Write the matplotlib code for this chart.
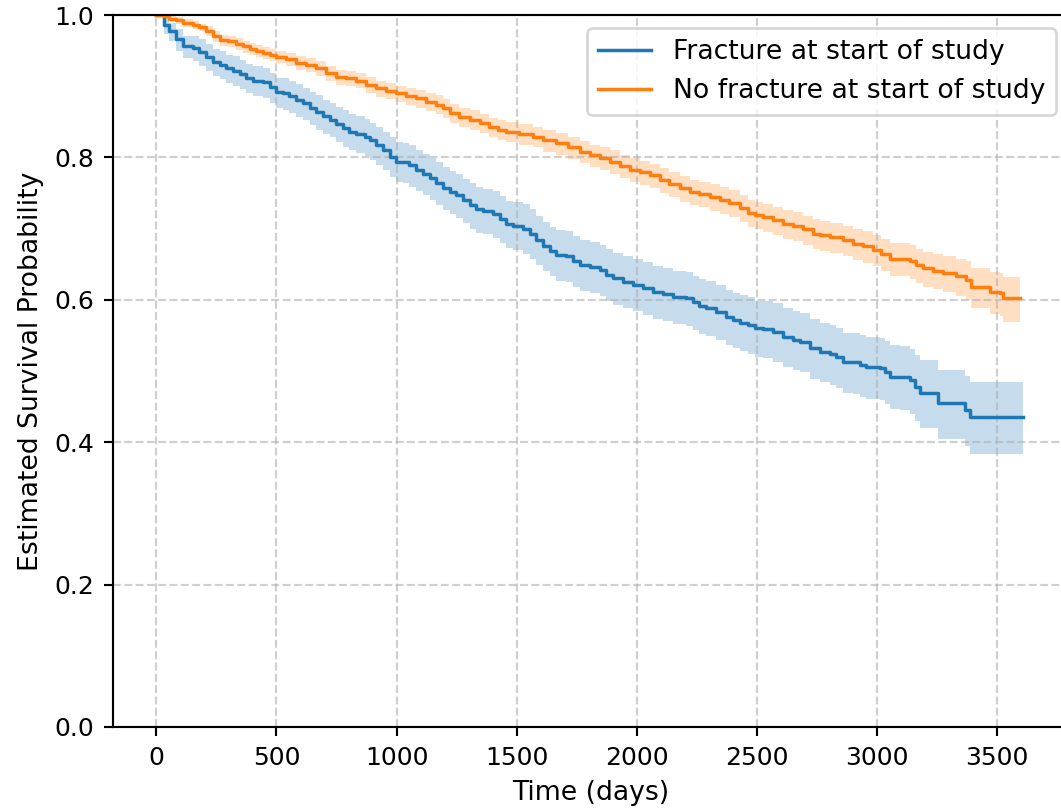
import matplotlib
matplotlib.use('Agg')
import matplotlib.pyplot as plt

# Fracture at start of study: time (days), survival, CI upper, CI lower
t_frac = [0, 33, 54, 82, 110, 151, 179, 207, 235, 263,
          290, 318, 346, 374, 401, 443, 471, 499, 527, 554,
          582, 610, 638, 665, 693, 721, 749, 776, 804, 832,
          867, 888, 915, 943, 971, 999, 1026, 1054, 1082, 1110,
          1138, 1165, 1193, 1221, 1249, 1276, 1304, 1332, 1360, 1401,
          1429, 1457, 1485, 1526, 1554, 1582, 1610, 1638, 1665, 1707,
          1735, 1763, 1804, 1846, 1874, 1901, 1943, 1985, 2026, 2068,
          2110, 2151, 2207, 2235, 2262, 2290, 2332, 2374, 2401, 2429,
          2464, 2492, 2526, 2568, 2609, 2651, 2679, 2721, 2762, 2804,
          2832, 2860, 2901, 2929, 2957, 3013, 3033, 3054, 3096, 3138,
          3158, 3179, 3256, 3367, 3388, 3610]
s_frac = [1.000, 0.986, 0.977, 0.966, 0.956, 0.954, 0.948, 0.941, 0.934, 0.930,
          0.925, 0.922, 0.917, 0.911, 0.908, 0.906, 0.899, 0.892, 0.890, 0.886,
          0.881, 0.876, 0.870, 0.864, 0.858, 0.853, 0.847, 0.841, 0.836, 0.833,
          0.829, 0.824, 0.817, 0.810, 0.801, 0.794, 0.793, 0.789, 0.783, 0.777,
          0.771, 0.764, 0.757, 0.752, 0.747, 0.740, 0.733, 0.727, 0.725, 0.721,
          0.714, 0.707, 0.704, 0.700, 0.693, 0.684, 0.675, 0.668, 0.663, 0.661,
          0.654, 0.649, 0.646, 0.642, 0.635, 0.630, 0.625, 0.621, 0.616, 0.611,
          0.608, 0.604, 0.602, 0.597, 0.591, 0.588, 0.583, 0.576, 0.572, 0.568,
          0.565, 0.560, 0.559, 0.555, 0.548, 0.544, 0.541, 0.532, 0.527, 0.524,
          0.520, 0.513, 0.512, 0.508, 0.506, 0.504, 0.499, 0.492, 0.491, 0.487,
          0.478, 0.469, 0.455, 0.445, 0.436, 0.436]
up_frac = [1.000, 0.996, 0.989, 0.980, 0.971, 0.971, 0.966, 0.959, 0.952, 0.949,
           0.944, 0.942, 0.937, 0.931, 0.928, 0.926, 0.919, 0.912, 0.911, 0.908,
           0.903, 0.898, 0.892, 0.887, 0.881, 0.877, 0.871, 0.866, 0.861, 0.858,
           0.854, 0.849, 0.843, 0.836, 0.828, 0.821, 0.820, 0.817, 0.811, 0.805,
           0.799, 0.793, 0.786, 0.781, 0.777, 0.770, 0.764, 0.758, 0.756, 0.753,
           0.746, 0.739, 0.737, 0.734, 0.727, 0.718, 0.709, 0.702, 0.698, 0.696,
           0.689, 0.684, 0.681, 0.677, 0.671, 0.666, 0.661, 0.657, 0.653, 0.648,
           0.645, 0.641, 0.639, 0.634, 0.629, 0.626, 0.621, 0.614, 0.610, 0.607,
           0.604, 0.599, 0.599, 0.595, 0.588, 0.584, 0.581, 0.573, 0.568, 0.565,
           0.561, 0.554, 0.554, 0.550, 0.548, 0.547, 0.542, 0.536, 0.535, 0.531,
           0.523, 0.515, 0.502, 0.493, 0.485, 0.485]
lo_frac = [1.000, 0.974, 0.963, 0.950, 0.939, 0.936, 0.929, 0.922, 0.915, 0.910,
           0.905, 0.901, 0.896, 0.890, 0.886, 0.884, 0.877, 0.870, 0.867, 0.863,
           0.857, 0.852, 0.846, 0.839, 0.833, 0.828, 0.821, 0.815, 0.810, 0.806,
           0.802, 0.797, 0.789, 0.782, 0.773, 0.765, 0.764, 0.759, 0.753, 0.747,
           0.740, 0.733, 0.726, 0.720, 0.715, 0.708, 0.700, 0.694, 0.692, 0.687,
           0.680, 0.673, 0.670, 0.665, 0.658, 0.649, 0.640, 0.633, 0.627, 0.625,
           0.618, 0.613, 0.610, 0.606, 0.598, 0.593, 0.588, 0.584, 0.578, 0.573,
           0.570, 0.566, 0.563, 0.558, 0.552, 0.549, 0.543, 0.536, 0.532, 0.528,
           0.524, 0.519, 0.518, 0.513, 0.506, 0.502, 0.499, 0.489, 0.484, 0.481,
           0.476, 0.469, 0.468, 0.463, 0.461, 0.459, 0.453, 0.446, 0.445, 0.440,
           0.430, 0.420, 0.405, 0.394, 0.384, 0.384]

# No fracture at start of study
t_nofrac = [0, 33, 54, 82, 110, 151, 179, 207, 235, 263,
            297, 332, 360, 388, 415, 443, 471, 499, 540, 582,
            624, 665, 707, 749, 790, 832, 874, 915, 957, 999,
            1040, 1082, 1124, 1165, 1193, 1221, 1262, 1304, 1346, 1387,
            1422, 1457, 1512, 1568, 1610, 1665, 1714, 1763, 1804, 1846,
            1888, 1929, 1971, 2013, 2054, 2096, 2137, 2179, 2221, 2262,
            2304, 2346, 2387, 2429, 2464, 2492, 2526, 2568, 2609, 2651,
            2693, 2735, 2762, 2804, 2860, 2901, 2943, 2985, 3019, 3054,
            3138, 3165, 3193, 3235, 3276, 3332, 3374, 3395, 3471, 3513,
            3526, 3596]
s_nofrac = [1.000, 0.998, 0.995, 0.993, 0.989, 0.986, 0.983, 0.978, 0.970, 0.965,
            0.963, 0.960, 0.956, 0.953, 0.950, 0.947, 0.944, 0.941, 0.938, 0.933,
            0.930, 0.925, 0.919, 0.913, 0.911, 0.908, 0.902, 0.897, 0.894, 0.890,
            0.886, 0.883, 0.878, 0.874, 0.869, 0.862, 0.857, 0.853, 0.848, 0.843,
            0.839, 0.836, 0.833, 0.829, 0.824, 0.820, 0.814, 0.808, 0.803, 0.799,
            0.794, 0.788, 0.783, 0.779, 0.775, 0.768, 0.763, 0.757, 0.752, 0.749,
            0.744, 0.740, 0.736, 0.729, 0.722, 0.719, 0.716, 0.712, 0.707, 0.704,
            0.699, 0.693, 0.691, 0.688, 0.684, 0.679, 0.675, 0.670, 0.664, 0.658,
            0.654, 0.649, 0.644, 0.641, 0.637, 0.633, 0.628, 0.618, 0.611, 0.609,
            0.602, 0.602]
up_nofrac = [1.000, 1.000, 0.998, 0.997, 0.994, 0.991, 0.988, 0.984, 0.977, 0.972,
             0.971, 0.968, 0.964, 0.961, 0.958, 0.955, 0.952, 0.949, 0.947, 0.942,
             0.940, 0.935, 0.929, 0.923, 0.921, 0.918, 0.913, 0.908, 0.905, 0.901,
             0.898, 0.895, 0.890, 0.887, 0.882, 0.875, 0.870, 0.866, 0.861, 0.856,
             0.853, 0.850, 0.847, 0.843, 0.838, 0.835, 0.829, 0.823, 0.818, 0.814,
             0.810, 0.804, 0.799, 0.795, 0.791, 0.785, 0.780, 0.774, 0.769, 0.766,
             0.762, 0.758, 0.754, 0.747, 0.740, 0.737, 0.735, 0.731, 0.726, 0.723,
             0.718, 0.713, 0.711, 0.708, 0.704, 0.700, 0.696, 0.691, 0.686, 0.680,
             0.677, 0.672, 0.667, 0.665, 0.661, 0.658, 0.654, 0.645, 0.639, 0.638,
             0.632, 0.632]
lo_nofrac = [1.000, 0.995, 0.991, 0.988, 0.983, 0.980, 0.977, 0.971, 0.962, 0.957,
             0.955, 0.951, 0.947, 0.944, 0.941, 0.938, 0.935, 0.932, 0.928, 0.923,
             0.920, 0.914, 0.908, 0.902, 0.900, 0.897, 0.890, 0.885, 0.882, 0.878,
             0.873, 0.870, 0.865, 0.861, 0.855, 0.848, 0.843, 0.839, 0.834, 0.828,
             0.824, 0.821, 0.818, 0.814, 0.808, 0.804, 0.798, 0.792, 0.786, 0.782,
             0.777, 0.771, 0.766, 0.761, 0.757, 0.750, 0.745, 0.738, 0.733, 0.730,
             0.725, 0.721, 0.716, 0.709, 0.702, 0.699, 0.695, 0.691, 0.686, 0.683,
             0.677, 0.671, 0.669, 0.666, 0.661, 0.656, 0.652, 0.647, 0.640, 0.634,
             0.629, 0.624, 0.618, 0.615, 0.611, 0.606, 0.600, 0.588, 0.580, 0.577,
             0.569, 0.569]

fig = plt.figure(figsize=(1061 / 192, 809 / 192), dpi=192)
ax = fig.add_axes([0.1065, 0.1014, 0.901, 0.880])

ax.step(t_frac, s_frac, where='post', color='C0', lw=1.3, label='Fracture at start of study')
ax.fill_between(t_frac, lo_frac, up_frac, step='post', color='C0', alpha=0.25, linewidth=0)
ax.step(t_nofrac, s_nofrac, where='post', color='C1', lw=1.3, label='No fracture at start of study')
ax.fill_between(t_nofrac, lo_nofrac, up_nofrac, step='post', color='C1', alpha=0.25, linewidth=0)

ax.set_xlim(-181, 3801)
ax.set_ylim(0, 1.0)
ax.tick_params(labelsize=9.4)
ax.set_xlabel('Time (days)', fontsize=10)
ax.set_ylabel('Estimated Survival Probability', fontsize=10)
ax.grid(True, linestyle='--', alpha=0.6)
ax.legend(loc='upper right', fontsize=10)

fig.savefig('out.png', dpi=192)
